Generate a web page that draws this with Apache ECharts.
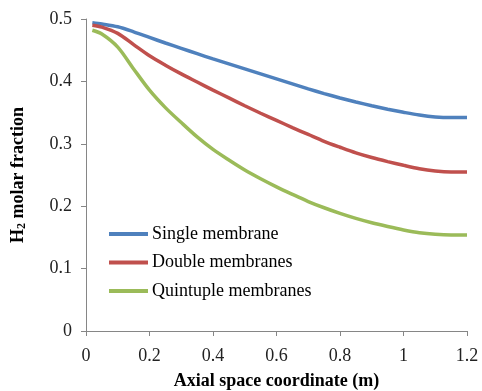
<!DOCTYPE html>
<html>
<head>
<meta charset="utf-8">
<script src="https://cdn.jsdelivr.net/npm/echarts@6/dist/echarts.min.js"></script>
<style>
  html, body { margin: 0; padding: 0; background: #fff; }
  #chart { width: 482px; height: 391px; }
</style>
</head>
<body>
<div id="chart"></div>
<script>
// Axial position along the module (m)
const positions = [0.02, 0.05, 0.1, 0.15, 0.2, 0.25, 0.3, 0.35, 0.4, 0.45, 0.5, 0.55, 0.6, 0.65, 0.7, 0.75, 0.8, 0.85, 0.9, 0.95, 1.0, 1.05, 1.1, 1.15, 1.2];

// H2 molar fraction for each configuration
const singleMembrane     = [0.494, 0.492, 0.4875, 0.4795, 0.4705, 0.4615, 0.453, 0.4445, 0.436, 0.428, 0.420, 0.412, 0.404, 0.396, 0.388, 0.3805, 0.3735, 0.367, 0.361, 0.3555, 0.3505, 0.346, 0.343, 0.342, 0.342];
const doubleMembranes    = [0.490, 0.487, 0.477, 0.459, 0.441, 0.426, 0.412, 0.399, 0.386, 0.3735, 0.361, 0.349, 0.3375, 0.326, 0.315, 0.304, 0.2945, 0.2855, 0.278, 0.2715, 0.2655, 0.260, 0.2565, 0.255, 0.255];
const quintupleMembranes = [0.482, 0.476, 0.455, 0.420, 0.386, 0.358, 0.334, 0.311, 0.291, 0.274, 0.258, 0.244, 0.231, 0.219, 0.2075, 0.1975, 0.1885, 0.1805, 0.1735, 0.1675, 0.162, 0.1575, 0.155, 0.154, 0.154];

const seriesNames = ['Single membrane', 'Double membranes', 'Quintuple membranes'];
const seriesColors = ['#4F81BD', '#C0504D', '#9BBB59'];
const seriesValues = [singleMembrane, doubleMembranes, quintupleMembranes];

const FONT = '"Liberation Serif", "Times New Roman", serif';

const chart = echarts.init(document.getElementById('chart'), null, { renderer: 'canvas' });

chart.setOption({
  animation: false,
  backgroundColor: '#ffffff',
  grid: { left: 86, right: 15, top: 19, bottom: 60, containLabel: false, outerBoundsMode: 'none' },
  legend: {
    orient: 'vertical',
    left: 109,
    top: 225,
    padding: 0,
    icon: 'rect',
    itemWidth: 39,
    itemHeight: 4,
    itemGap: 10.5,
    textStyle: { fontFamily: FONT, fontSize: 18, color: '#000', padding: [0, 0, 0, -1] },
    data: seriesNames
  },
  xAxis: {
    type: 'value',
    min: 0,
    max: 1.2,
    interval: 0.2,
    name: 'Axial space coordinate (m)',
    nameLocation: 'middle',
    nameGap: 41,
    nameTextStyle: { fontFamily: FONT, fontSize: 18, fontWeight: 'bold', color: '#000' },
    axisLine: { lineStyle: { color: '#868686', width: 1 } },
    axisTick: { show: true, length: 5, lineStyle: { color: '#868686' } },
    axisLabel: { margin: 16, fontFamily: FONT, fontSize: 18, color: '#222' },
    splitLine: { show: false }
  },
  yAxis: {
    type: 'value',
    min: 0,
    max: 0.5,
    interval: 0.1,
    name: '{b|H}{s|2}{b| molar fraction}',
    nameLocation: 'middle',
    nameGap: 58,
    nameTextStyle: {
      rich: {
        b: { fontFamily: FONT, fontSize: 18, fontWeight: 'bold', color: '#000' },
        s: { fontFamily: FONT, fontSize: 12, fontWeight: 'bold', color: '#000', verticalAlign: 'bottom', padding: [8, 0, 0, 0] }
      }
    },
    axisLine: { show: true, lineStyle: { color: '#868686', width: 1 } },
    axisTick: { show: true, length: 5, lineStyle: { color: '#868686' } },
    axisLabel: { margin: 14, fontFamily: FONT, fontSize: 18, color: '#222' },
    splitLine: { show: false }
  },
  series: seriesNames.map((name, i) => ({
    name: name,
    type: 'line',
    data: positions.map((x, j) => [x, seriesValues[i][j]]),
    smooth: 0.3,
    showSymbol: false,
    symbol: 'none',
    lineStyle: { color: seriesColors[i], width: 3.5 },
    itemStyle: { color: seriesColors[i] }
  }))
});
</script>
</body>
</html>
